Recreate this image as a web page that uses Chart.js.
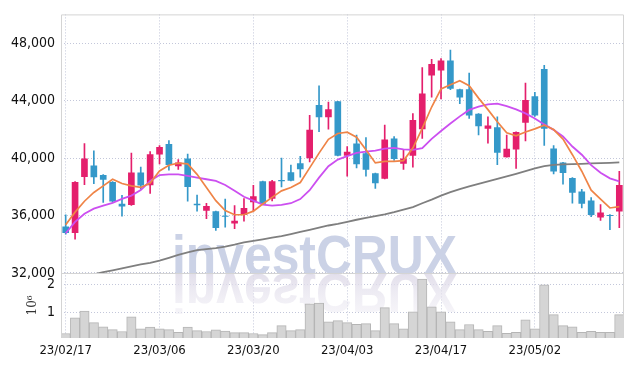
<!DOCTYPE html>
<html><head><meta charset="utf-8">
<script src="https://cdn.jsdelivr.net/npm/chart.js@4"></script>
<style>html,body{margin:0;padding:0;background:#fff}canvas{display:block}</style>
</head><body>
<canvas id="c" width="634" height="366"></canvas>
<script>
const labels = ['23/02/17','23/02/20','23/02/21','23/02/22','23/02/23','23/02/24','23/02/27','23/02/28','23/03/02','23/03/03',
'23/03/06','23/03/07','23/03/08','23/03/09','23/03/10','23/03/13','23/03/14','23/03/15','23/03/16','23/03/17',
'23/03/20','23/03/21','23/03/22','23/03/23','23/03/24','23/03/27','23/03/28','23/03/29','23/03/30','23/03/31',
'23/04/03','23/04/04','23/04/05','23/04/06','23/04/07','23/04/10','23/04/11','23/04/12','23/04/13','23/04/14',
'23/04/17','23/04/18','23/04/19','23/04/20','23/04/21','23/04/24','23/04/25','23/04/26','23/04/27','23/04/28',
'23/05/02','23/05/03','23/05/04','23/05/08','23/05/09','23/05/10','23/05/11','23/05/12','23/05/15','23/05/16'];

const opens  = [35200,34800,38700,39450,38800,38300,36800,36750,38970,38130,40270,40960,39450,39950,36800,36350,36270,35960,35470,36060,
36950,38350,37180,38440,38990,39610,40000,43660,42860,43930,40180,40980,40300,38920,38580,41330,39630,40180,42020,45770,
46110,46760,44760,44760,43050,42060,42110,40070,40620,42470,44280,46180,40640,39660,38580,37640,37020,35880,36000,36290];
const highs  = [36050,38350,41000,40500,38850,38350,37400,40350,39360,40450,40870,41210,39890,40270,37420,36850,36300,37140,36680,37180,
38100,38400,38440,40000,39500,40110,42980,45030,43890,43950,40800,41600,41420,38950,42290,41490,40570,43090,46300,46870,
46920,47510,44800,45910,43100,42860,42860,41600,41830,45220,44580,46460,40870,39700,38630,37820,37250,36750,36060,39080];
const lows   = [34700,34350,38150,38220,36900,36900,35950,36700,37830,37530,39590,39150,39200,36990,36300,35780,34960,35190,35080,35600,
36290,36750,37020,37980,38400,38670,39730,41830,42010,40150,38740,39310,38740,37890,38550,39840,39200,39360,41370,44240,
44120,44760,43780,42750,41600,41030,39540,40050,39270,41190,42900,40870,38900,38170,36860,36520,35920,35650,35010,35150];
const closes = [34800,38300,39950,38680,38500,37000,36650,38970,38100,40230,40750,39540,39660,38000,36740,36640,35150,35940,35600,36500,
37320,36840,38350,38400,38440,39240,41950,42860,43380,40180,40410,39590,39200,38260,41260,39950,39950,42630,44470,46530,
46760,44850,44240,42980,42240,42240,40390,40620,41790,44010,42980,42060,39080,38970,37600,36840,36060,36180,35980,38100];

const maShort = [35350,36230,36990,37600,38060,38520,38220,38060,37950,38250,39100,39500,39640,39590,38860,37950,37030,36340,36050,36050,
36300,36800,37260,37710,37940,38290,39310,40340,41300,41710,41800,41450,40570,39660,39770,39770,39820,40690,42060,43550,
44810,45100,45380,45030,44170,43370,42520,41750,41540,41810,42030,42290,41980,41320,40230,39080,37760,37140,36520,36610];
const maMid = [34760,35550,36120,36470,36690,36880,37150,37380,37770,38400,38810,38860,38860,38750,38630,38520,38400,38125,37714,37300,
37030,36750,36690,36730,36850,37140,37760,38630,39430,39890,40130,40350,40440,40510,40660,40710,40600,40560,40690,41330,
41880,42400,42900,43350,43580,43740,43780,43610,43390,43110,42750,42340,41960,41500,40800,40230,39500,38970,38580,38380];
const maLong = [31600,31700,31800,31900,32050,32180,32320,32460,32590,32700,32850,33050,33250,33420,33580,33650,33720,33830,33960,34120,
34230,34340,34450,34560,34700,34850,35000,35150,35300,35420,35560,35700,35830,35960,36080,36230,36400,36580,36850,37100,
37380,37620,37830,38020,38200,38370,38550,38720,38900,39080,39270,39440,39520,39560,39570,39590,39620,39640,39660,39690];

// volume in units of 10^6
const volumes = [0.26,0.82,1.06,0.65,0.50,0.40,0.33,0.85,0.43,0.49,0.43,0.40,0.30,0.49,0.36,0.33,0.39,0.35,0.29,0.29,
0.26,0.22,0.29,0.54,0.36,0.40,1.32,1.34,0.68,0.72,0.65,0.59,0.61,0.36,1.18,0.61,0.43,1.03,2.20,1.21,
1.03,0.68,0.40,0.58,0.40,0.34,0.54,0.27,0.30,0.75,0.43,1.99,0.93,0.54,0.50,0.30,0.34,0.30,0.30,0.93];

const priceTicks = [32000,34000,36000,38000,40000,42000,44000,46000,48000];
const volumeTicks = [1,2];
const xTickIndex = [0,10,20,30,40,50];
const watermark = 'investCRUX';

const UP = '#e41f6c', DOWN = '#3498c9';
const candleColors = closes.map((c,i)=> c >= opens[i] ? UP : DOWN);
const GRID = '#c3c7da';
const FONT = '"DejaVu Sans Condensed","Liberation Sans Narrow",sans-serif';

const panelPlugin = {
  id:'panels',
  beforeDatasetsDraw(chart){
    const ctx = chart.ctx, py = chart.scales.y;
    ctx.save();
    ctx.font = 'bold 56px "Liberation Sans", sans-serif';
    const w = ctx.measureText(watermark).width;
    const sx = 285 / w;
    const baseY = py.bottom + 1;
    ctx.translate(172, baseY);
    ctx.scale(sx, 1);
    ctx.fillStyle = '#cbd2e6';
    ctx.textBaseline = 'alphabetic';
    ctx.fillText(watermark, 0, 0);
    ctx.scale(1, -1);
    const g = ctx.createLinearGradient(0, 0, 0, -44);
    g.addColorStop(0, 'rgba(222,218,232,0.85)');
    g.addColorStop(1, 'rgba(240,238,245,0.5)');
    ctx.fillStyle = g;
    ctx.fillText(watermark, 0, 0);
    ctx.restore();
  },
  beforeDatasetDraw(chart, args){
    const ds = chart.data.datasets[args.index];
    const s = chart.scales[ds.yAxisID];
    const ctx = chart.ctx, a = chart.chartArea;
    ctx.save();
    ctx.beginPath();
    ctx.rect(a.left, s.top, a.right - a.left, s.bottom - s.top);
    ctx.clip();
  },
  afterDatasetDraw(chart){ chart.ctx.restore(); },
  afterDraw(chart){
    const ctx = chart.ctx, a = chart.chartArea, py = chart.scales.y;
    ctx.save();
    ctx.strokeStyle = '#d4d4d4';
    ctx.lineWidth = 1;
    ctx.beginPath();
    ctx.moveTo(a.left + 0.5, a.bottom);
    ctx.lineTo(a.left + 0.5, a.top + 0.5);
    ctx.lineTo(a.right - 0.5, a.top + 0.5);
    ctx.lineTo(a.right - 0.5, a.bottom);
    ctx.moveTo(a.left, Math.round(py.bottom) + 0.5);
    ctx.lineTo(a.right, Math.round(py.bottom) + 0.5);
    ctx.stroke();
    ctx.restore();
  }
};

new Chart(document.getElementById('c'), {
  data: {
    labels,
    datasets: [
      {type:'line', label:'MA short', data: maShort, yAxisID:'y', borderColor:'#ef8447', borderWidth:1.7, pointRadius:0, tension:0, order:1},
      {type:'line', label:'MA mid', data: maMid, yAxisID:'y', borderColor:'#cc4ff0', borderWidth:1.8, pointRadius:0, tension:0, order:2},
      {type:'line', label:'MA long', data: maLong, yAxisID:'y', borderColor:'#7f7f7f', borderWidth:1.8, pointRadius:0, tension:0, order:3},
      {type:'bar', label:'body', data: opens.map((o,i)=>[o, closes[i]]), yAxisID:'y', backgroundColor: candleColors, barThickness:6, grouped:false, order:4},
      {type:'bar', label:'wick', data: lows.map((l,i)=>[l, highs[i]]), yAxisID:'y', backgroundColor: candleColors, barThickness:1, grouped:false, order:5},
      {type:'bar', label:'volume', data: volumes, yAxisID:'vol', backgroundColor:'#d5d5d5', borderColor:'#b5b5b5', borderWidth:1, barPercentage:1, categoryPercentage:1, grouped:false, order:6}
    ]
  },
  options: {
    responsive:false, animation:false, devicePixelRatio:1,
    layout:{padding:{left:0, top:9, right:10, bottom:0}},
    plugins:{legend:{display:false}, tooltip:{enabled:false}},
    scales:{
      x:{
        type:'category', offset:true,
        grid:{offset:false, drawTicks:false, color: c => xTickIndex.includes(c.index) ? GRID : 'rgba(0,0,0,0)'},
        border:{display:false, dash:[1,2]},
        ticks:{autoSkip:false, maxRotation:0, padding:5, color:'#111', font:{family:FONT, size:13},
          callback:(v,i)=> xTickIndex.includes(i) ? labels[i] : ''},
        afterFit: s => { s.height = 28; }
      },
      vol:{
        type:'linear', position:'left', stack:'panes', stackWeight:66, min:0.1, max:2.42,
        afterBuildTicks: s => { s.ticks = volumeTicks.map(v=>({value:v})); },
        grid:{drawTicks:false, color:GRID},
        border:{display:false, dash:[1,2]},
        ticks:{padding:6, color:'#111', font:{family:FONT, size:14}},
        title:{display:true, text:'10⁶', color:'#333', font:{family:'"DejaVu Serif",serif', size:12}, padding:{top:26, bottom:0}},
        afterFit: s => { s.width = 61; }
      },
      y:{
        type:'linear', position:'left', stack:'panes', stackWeight:262, min:32000, max:50000,
        afterBuildTicks: s => { s.ticks = priceTicks.map(v=>({value:v})); },
        grid:{drawTicks:false, color:GRID},
        border:{display:false, dash:[1,2]},
        ticks:{padding:6, color:'#111', font:{family:FONT, size:14}, callback: v => v.toLocaleString('en-US')},
        afterFit: s => { s.width = 61; }
      }
    }
  },
  plugins:[panelPlugin]
});
</script>
</body></html>
